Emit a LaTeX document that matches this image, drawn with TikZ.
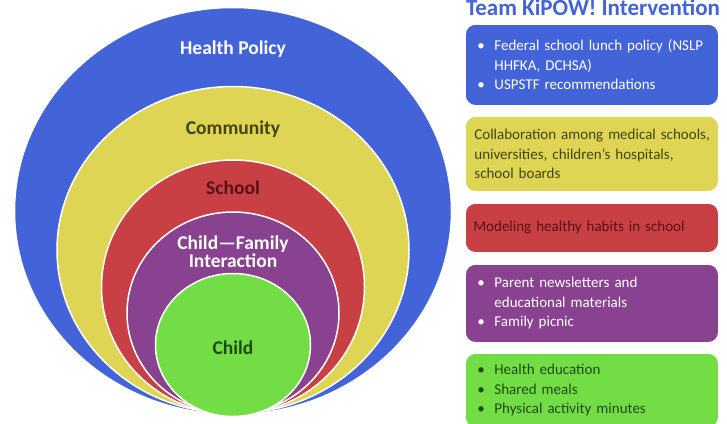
\documentclass[tikz,border=0pt]{standalone}
\usepackage{fontspec}
\setmainfont{Carlito}
\usetikzlibrary{shapes.geometric}

\definecolor{policyblue}{RGB}{67,99,216}
\definecolor{commyellow}{RGB}{221,213,83}
\definecolor{schoolred}{RGB}{200,64,67}
\definecolor{familypurple}{RGB}{137,66,143}
\definecolor{childgreen}{RGB}{114,221,68}
\definecolor{olivetext}{RGB}{70,66,16}
\definecolor{redtext}{RGB}{88,18,22}
\definecolor{greentext}{RGB}{30,74,16}

\tikzset{
  ring/.style={draw=white, line width=1.5pt, ellipse, inner sep=0pt},
  ringlabel/.style={font=\fontsize{19.5}{18}\selectfont\bfseries, align=center},
  actbox/.style={draw=white, line width=0.8pt, rounded corners=10pt, anchor=north west,
    minimum width=253pt, inner xsep=12pt, text width=229pt, align=left,
    font=\fontsize{15}{19.5}\selectfont},
}
\newcommand{\kbul}{\makebox[17pt][l]{\textbullet}}
\newcommand{\kgap}{\hspace*{17pt}}

\begin{document}
\begin{tikzpicture}[x=1pt, y=-1pt]
  \clip (0,0) rectangle (727,423);

  % nested rings, all touching at the bottom
  \node[ring, fill=policyblue, minimum width=437pt, minimum height=407pt] (policy) at (233,211) {};
  \node[ring, fill=commyellow, minimum width=352pt, minimum height=327pt] (community) at (233,250) {};
  \node[ring, fill=schoolred, minimum width=263pt, minimum height=254pt] (school) at (233,287) {};
  \node[ring, fill=familypurple, minimum width=212pt, minimum height=202pt] (family) at (233,313) {};
  \node[ring, fill=childgreen, minimum width=155pt, minimum height=143pt] (child) at (233,345) {};

  \node[ringlabel, text=white] (policylbl) at (233,49) {Health Policy};
  \node[ringlabel, text=olivetext] (communitylbl) at (233,129) {Community};
  \node[ringlabel, text=redtext] (schoollbl) at (233,188) {School};
  \node[ringlabel, text=white] (familylbl) at (233,252) {Child—Family\\Interaction};
  \node[ringlabel, text=greentext] (childlbl) at (233,348) {Child};

  % interventions
  \node[anchor=base, text=policyblue, font=\fontsize{23}{24}\selectfont\bfseries] (title) at (593,15) {Team KiPOW! Intervention};

  \node[actbox, fill=policyblue, text=white, minimum height=81pt] (policybox) at (465,24)
    {\mbox{\kbul Federal school lunch policy (NSLP}\\ \kgap HHFKA, DCHSA)\\ \kbul USPSTF recommendations};
  \node[actbox, fill=commyellow, text=olivetext, minimum height=75pt, inner xsep=9pt, text width=235pt] (communitybox) at (465,116)
    {\mbox{Collaboration among medical schools,}\\ \mbox{universities, children’s hospitals,}\\ school boards};
  \node[actbox, fill=schoolred, text=redtext, minimum height=49pt, inner xsep=8pt, text width=237pt] (schoolbox) at (465,203)
    {Modeling healthy habits in school};
  \node[actbox, fill=familypurple, text=white, minimum height=78pt] (familybox) at (465,264)
    {\kbul Parent newsletters and\\ \kgap educational materials\\ \kbul Family picnic};
  \node[actbox, fill=childgreen, text=greentext, minimum height=74pt] (childbox) at (465,353)
    {\kbul Health education\\ \kbul Shared meals\\ \kbul Physical activity minutes};
\end{tikzpicture}
\end{document}
